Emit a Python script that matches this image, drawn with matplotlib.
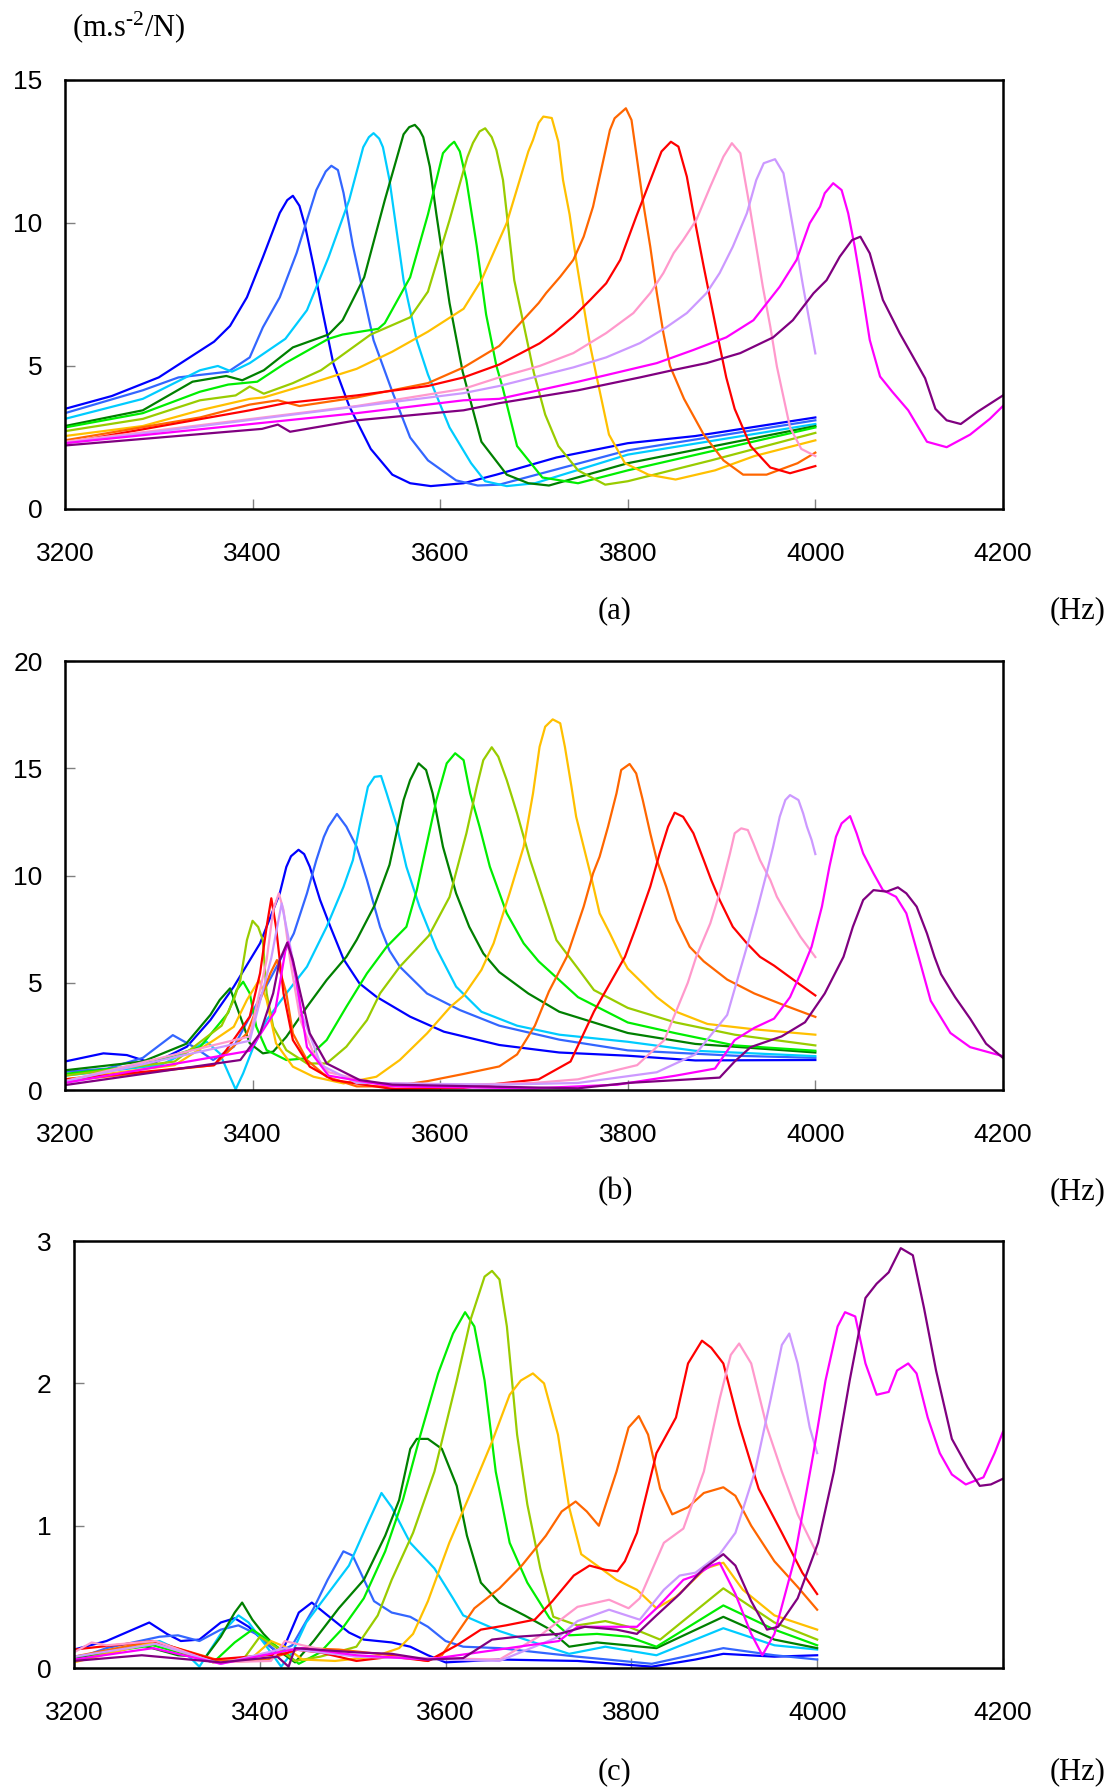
import matplotlib
matplotlib.use("Agg")
import matplotlib.pyplot as plt

plt.rcParams['font.family'] = 'Liberation Sans'
plt.rcParams['mathtext.fontset'] = 'custom'
plt.rcParams['mathtext.rm'] = 'Liberation Serif'
plt.rcParams['mathtext.it'] = 'Liberation Serif:italic'

# frequency axis
x_ticks = [3200, 3400, 3600, 3800, 4000, 4200]

# colours of the 13 measurement curves (same order in every panel)
colors = ['#0000FF', '#3366FF', '#00CCFF', '#008000', '#00EE00', '#99CC00', '#FFC000',
          '#FF6600', '#FF0000', '#FF99CC', '#CC99FF', '#FF00FF', '#800080']

# ---------------- panel (a) ----------------
a_blue = [(3200,3.5),(3250,3.95),(3300,4.6),(3359,5.85),(3376,6.4),(3394,7.4),(3411,8.8),(3429,10.35),(3437,10.8),(3443,10.95),(3450,10.6),(3456,9.9),(3465,8.5),(3475,6.85),(3486,5.1),(3503,3.6),(3526,2.1),(3549,1.2),(3568,0.9),(3590,0.8),(3625,0.9),(3660,1.2),(3724,1.8),(3800,2.3),(3872,2.55),(4000,3.2)]
a_royal = [(3200,3.35),(3283,4.15),(3321,4.6),(3374,4.8),(3397,5.3),(3411,6.35),(3429,7.4),(3447,8.95),(3468,11.15),(3478,11.8),(3484,12.0),(3491,11.85),(3497,11.05),(3507,9.2),(3518,7.55),(3529,5.9),(3549,4.1),(3568,2.5),(3587,1.7),(3617,1.0),(3640,0.82),(3663,0.85),(3800,2.05),(4000,3.1)]
a_sky = [(3200,3.15),(3283,3.85),(3344,4.85),(3363,5.0),(3378,4.8),(3397,5.1),(3435,5.95),(3458,6.95),(3481,8.8),(3503,10.8),(3518,12.65),(3524,13.0),(3529,13.14),(3535,12.95),(3539,12.65),(3546,11.5),(3561,8.0),(3575,5.9),(3587,4.7),(3610,2.85),(3633,1.6),(3648,0.97),(3671,0.8),(3701,0.9),(3800,1.9),(4000,2.97)]
a_dgreen = [(3200,2.9),(3283,3.45),(3336,4.45),(3372,4.65),(3389,4.5),(3412,4.85),(3443,5.65),(3481,6.1),(3496,6.6),(3519,8.1),(3541,10.8),(3561,13.1),(3567,13.35),(3573,13.43),(3578,13.25),(3582,13.0),(3589,11.97),(3596,10.3),(3610,7.2),(3624,4.8),(3644,2.35),(3671,1.2),(3694,0.9),(3716,0.82),(3800,1.6),(4000,2.9)]
a_lime = [(3200,2.85),(3283,3.35),(3344,4.1),(3374,4.35),(3405,4.45),(3435,5.1),(3481,5.95),(3496,6.1),(3534,6.3),(3541,6.5),(3568,8.1),(3587,10.3),(3603,12.44),(3610,12.7),(3615,12.84),(3621,12.5),(3628,11.5),(3639,9.2),(3649,6.8),(3660,5.0),(3667,4.2),(3682,2.2),(3709,1.1),(3747,0.9),(3800,1.35),(4000,2.85)]
a_ygreen = [(3200,2.72),(3283,3.15),(3344,3.8),(3382,3.97),(3397,4.28),(3412,4.03),(3443,4.4),(3473,4.85),(3488,5.2),(3526,6.1),(3568,6.7),(3587,7.6),(3610,10.1),(3629,12.3),(3635,12.8),(3642,13.2),(3648,13.31),(3655,13.0),(3660,12.55),(3667,11.5),(3679,8.0),(3690,6.3),(3700,4.75),(3712,3.3),(3726,2.2),(3747,1.35),(3776,0.85),(3800,0.97),(3889,1.7),(4000,2.66)]
a_gold = [(3200,2.55),(3283,2.9),(3344,3.45),(3397,3.85),(3412,3.9),(3458,4.35),(3511,4.9),(3549,5.5),(3587,6.2),(3625,7.0),(3644,8.0),(3671,10.0),(3694,12.5),(3699,12.9),(3705,13.5),(3710,13.72),(3719,13.67),(3726,12.84),(3731,11.5),(3738,10.3),(3745,8.7),(3753,7.1),(3760,5.7),(3767,4.6),(3780,2.6),(3797,1.6),(3822,1.2),(3851,1.03),(3893,1.35),(3935,1.85),(4000,2.4)]
a_orange = [(3200,2.4),(3344,3.2),(3397,3.65),(3427,3.8),(3450,3.6),(3511,3.9),(3587,4.4),(3625,4.95),(3663,5.7),(3705,7.2),(3713,7.55),(3728,8.12),(3742,8.71),(3753,9.52),(3763,10.57),(3774,12.2),(3781,13.25),(3786,13.66),(3798,14.01),(3804,13.6),(3809,12.44),(3816,10.8),(3824,9.17),(3831,7.55),(3838,6.15),(3845,5.0),(3860,3.85),(3881,2.6),(3902,1.7),(3923,1.2),(3948,1.2),(3981,1.6),(4000,1.97)]
a_red = [(3200,2.3),(3397,3.45),(3435,3.7),(3511,3.97),(3587,4.3),(3625,4.6),(3663,5.05),(3706,5.79),(3721,6.14),(3742,6.72),(3760,7.31),(3777,7.89),(3792,8.71),(3809,10.22),(3827,11.74),(3836,12.5),(3846,12.84),(3854,12.67),(3863,11.62),(3870,10.34),(3881,8.47),(3891,6.84),(3898,5.7),(3905,4.6),(3914,3.5),(3931,2.2),(3952,1.45),(3973,1.25),(4000,1.5)]
a_pink = [(3200,2.35),(3511,3.6),(3625,4.2),(3663,4.6),(3706,5.0),(3742,5.45),(3777,6.15),(3806,6.85),(3824,7.55),(3838,8.25),(3849,8.95),(3859,9.4),(3873,10.1),(3888,11.27),(3902,12.32),(3911,12.79),(3920,12.44),(3925,11.5),(3930,10.57),(3937,9.17),(3944,7.77),(3952,6.37),(3959,4.98),(3973,2.85),(3985,2.1),(4000,1.85)]
a_lav = [(3200,2.3),(3625,4.05),(3663,4.3),(3742,4.95),(3777,5.3),(3813,5.8),(3841,6.35),(3863,6.85),(3884,7.55),(3898,8.25),(3912,9.17),(3927,10.34),(3937,11.5),(3945,12.09),(3957,12.23),(3966,11.74),(3976,9.87),(3987,7.77),(4000,5.44)]
a_mag = [(3200,2.3),(3511,3.35),(3625,3.8),(3663,3.85),(3747,4.45),(3777,4.68),(3831,5.1),(3870,5.56),(3905,6.0),(3934,6.6),(3962,7.77),(3980,8.71),(3994,9.99),(4005,10.57),(4010,11.04),(4019,11.39),(4028,11.15),(4035,10.34),(4042,9.17),(4048,8.0),(4058,5.91),(4069,4.63),(4082,4.1),(4099,3.45),(4119,2.35),(4140,2.16),(4165,2.6),(4186,3.15),(4200,3.6)]
a_purple = [(3200,2.22),(3410,2.8),(3427,2.95),(3440,2.7),(3511,3.1),(3625,3.45),(3663,3.7),(3747,4.15),(3813,4.6),(3849,4.86),(3884,5.1),(3920,5.45),(3955,6.0),(3976,6.6),(3998,7.54),(4012,8.0),(4026,8.82),(4039,9.4),(4048,9.52),(4058,8.94),(4072,7.31),(4090,6.14),(4104,5.33),(4117,4.57),(4128,3.5),(4140,3.1),(4155,2.97),(4173,3.4),(4200,3.97)]

# ---------------- panel (b) ----------------
b_blue = [(3200,1.33),(3241,1.71),(3266,1.63),(3294,1.24),(3330,2.02),(3355,3.26),(3380,4.82),(3408,6.84),(3429,9.17),(3436,10.4),(3441,10.9),(3449,11.2),(3455,11.0),(3461,10.41),(3472,8.86),(3483,7.61),(3497,6.1),(3514,4.97),(3532,4.35),(3568,3.42),(3604,2.72),(3663,2.1),(3727,1.75),(3800,1.6),(3872,1.38),(4000,1.4)]
b_royal = [(3200,0.85),(3245,1.0),(3283,1.5),(3315,2.56),(3337,2.02),(3358,1.4),(3380,2.02),(3401,3.73),(3422,5.44),(3444,7.3),(3458,9.17),(3468,10.72),(3476,11.8),(3481,12.28),(3490,12.87),(3500,12.28),(3511,11.34),(3522,9.79),(3536,7.6),(3546,6.5),(3557,5.75),(3586,4.5),(3621,3.73),(3663,3.0),(3727,2.35),(3800,1.85),(3914,1.6),(4000,1.5)]
b_sky = [(3200,0.67),(3302,1.16),(3329,1.75),(3351,2.25),(3365,1.71),(3376,0.62),(3382,0.03),(3390,0.78),(3401,2.02),(3415,3.26),(3436,4.51),(3458,5.75),(3479,7.61),(3497,9.48),(3507,10.72),(3514,12.28),(3523,14.14),(3530,14.6),(3537,14.64),(3543,13.83),(3554,12.28),(3564,10.41),(3578,8.55),(3596,6.6),(3617,4.82),(3644,3.65),(3682,3.0),(3727,2.58),(3800,2.25),(3872,1.83),(4000,1.58)]
b_dgreen = [(3200,0.92),(3283,1.33),(3329,2.15),(3355,3.5),(3365,4.2),(3376,4.74),(3387,3.42),(3397,2.18),(3411,1.71),(3422,1.79),(3436,2.48),(3458,3.88),(3479,5.13),(3500,6.21),(3511,7.0),(3530,8.6),(3546,10.5),(3551,11.5),(3561,13.52),(3568,14.45),(3577,15.23),(3585,14.92),(3592,13.83),(3603,11.34),(3617,9.17),(3631,7.61),(3646,6.37),(3663,5.5),(3694,4.5),(3727,3.65),(3800,2.66),(3872,2.15),(4000,1.75)]
b_lime = [(3200,0.75),(3283,1.16),(3344,2.0),(3374,3.6),(3383,4.66),(3390,5.05),(3397,4.51),(3404,2.95),(3415,1.86),(3436,1.4),(3458,1.48),(3479,2.33),(3500,3.88),(3522,5.44),(3543,6.68),(3564,7.61),(3575,9.3),(3582,10.72),(3596,13.52),(3607,15.23),(3616,15.7),(3625,15.38),(3632,13.83),(3642,12.28),(3653,10.41),(3671,8.24),(3689,6.84),(3705,6.0),(3747,4.33),(3800,3.15),(3851,2.65),(3914,2.08),(4000,1.83)]
b_ygreen = [(3200,0.67),(3317,1.33),(3367,3.0),(3380,4.2),(3387,5.13),(3394,6.99),(3400,7.89),(3406,7.6),(3411,6.99),(3415,4.51),(3422,2.95),(3436,1.86),(3458,1.24),(3479,1.24),(3500,2.02),(3522,3.26),(3536,4.51),(3557,5.75),(3588,7.2),(3610,9.0),(3628,11.97),(3639,14.14),(3646,15.38),(3655,15.98),(3662,15.54),(3671,14.45),(3682,12.9),(3696,10.72),(3710,8.86),(3724,6.99),(3747,5.66),(3764,4.66),(3800,3.83),(3851,3.15),(3914,2.58),(4000,2.08)]
b_gold = [(3200,0.5),(3317,1.16),(3359,2.33),(3380,2.95),(3394,4.2),(3407,5.13),(3415,4.2),(3425,2.18),(3443,1.09),(3465,0.62),(3497,0.31),(3532,0.62),(3557,1.4),(3586,2.64),(3611,3.88),(3625,4.4),(3644,5.6),(3657,6.84),(3674,9.17),(3689,11.34),(3699,13.83),(3706,16.0),(3712,16.94),(3720,17.28),(3728,17.1),(3733,16.0),(3740,14.14),(3745,12.74),(3753,11.34),(3761,9.94),(3770,8.24),(3781,7.3),(3793,6.21),(3800,5.66),(3831,4.33),(3851,3.66),(3885,3.08),(3935,2.83),(4000,2.58)]
b_orange = [(3200,0.42),(3359,1.16),(3394,2.64),(3408,4.2),(3419,5.44),(3426,6.06),(3436,4.51),(3443,2.64),(3458,1.4),(3479,0.62),(3511,0.17),(3549,0.17),(3587,0.42),(3625,0.75),(3663,1.1),(3682,1.66),(3701,3.0),(3716,4.6),(3735,6.21),(3753,8.55),(3763,10.1),(3770,10.88),(3779,12.28),(3788,13.83),(3793,14.92),(3802,15.2),(3809,14.76),(3816,13.52),(3824,11.97),(3831,10.72),(3841,9.48),(3852,7.93),(3866,6.68),(3881,6.0),(3906,5.15),(3935,4.5),(3964,4.0),(4000,3.41)]
b_red = [(3200,0.5),(3359,1.16),(3372,1.86),(3397,3.42),(3408,5.44),(3415,7.61),(3420,8.94),(3425,7.61),(3433,4.51),(3443,2.33),(3461,1.09),(3486,0.47),(3549,0.05),(3625,0.1),(3663,0.3),(3705,0.5),(3739,1.33),(3764,3.66),(3797,6.21),(3809,7.61),(3824,9.48),(3834,11.03),(3843,12.28),(3850,12.93),(3859,12.74),(3870,11.97),(3881,10.72),(3889,9.79),(3898,8.86),(3912,7.61),(3927,6.84),(3941,6.21),(3956,5.8),(3981,5.0),(4000,4.41)]
b_pink = [(3200,0.42),(3397,2.5),(3415,6.06),(3422,8.39),(3428,9.17),(3433,8.39),(3440,6.06),(3451,3.26),(3465,1.71),(3481,0.83),(3530,0.33),(3625,0.25),(3700,0.33),(3747,0.5),(3810,1.16),(3839,2.33),(3864,5.0),(3873,6.21),(3888,7.77),(3900,9.48),(3909,11.03),(3914,11.97),(3921,12.2),(3928,12.12),(3934,11.5),(3941,10.72),(3952,9.79),(3959,9.01),(3969,8.24),(3984,7.15),(4000,6.2)]
b_lav = [(3200,0.4),(3397,2.3),(3420,6.16),(3431,8.7),(3443,6.06),(3451,3.73),(3473,1.16),(3511,0.33),(3663,0.25),(3747,0.33),(3831,0.83),(3872,1.66),(3906,3.5),(3927,6.68),(3937,8.24),(3948,10.1),(3955,11.34),(3962,12.74),(3968,13.52),(3973,13.75),(3982,13.52),(3987,12.9),(3991,12.28),(3996,11.66),(4000,11.0)]
b_mag = [(3200,0.33),(3397,1.83),(3424,3.66),(3435,6.5),(3438,6.9),(3446,5.3),(3458,2.0),(3481,0.67),(3549,0.17),(3700,0.08),(3789,0.25),(3851,0.67),(3893,1.0),(3914,2.33),(3935,2.9),(3956,3.33),(3973,4.33),(3985,5.5),(3996,6.68),(4007,8.55),(4015,10.41),(4022,11.81),(4028,12.43),(4037,12.77),(4044,11.97),(4051,11.03),(4062,10.1),(4072,9.32),(4086,9.01),(4097,8.24),(4104,7.15),(4111,6.06),(4123,4.16),(4144,2.66),(4165,2.0),(4200,1.58)]
b_purple = [(3200,0.23),(3387,1.4),(3408,2.64),(3422,4.51),(3429,6.06),(3437,6.87),(3443,6.06),(3451,4.51),(3461,2.64),(3479,1.24),(3514,0.47),(3549,0.25),(3747,0.08),(3800,0.33),(3898,0.58),(3914,1.33),(3931,2.0),(3964,2.5),(3989,3.16),(4010,4.5),(4030,6.21),(4040,7.61),(4051,8.86),(4062,9.32),(4076,9.25),(4088,9.45),(4097,9.17),(4108,8.55),(4119,7.3),(4127,6.21),(4134,5.4),(4149,4.33),(4165,3.33),(4182,2.16),(4200,1.5)]

# ---------------- panel (c) ----------------
c_blue = [(3200,0.13),(3235,0.19),(3281,0.32),(3300,0.24),(3315,0.19),(3335,0.2),(3358,0.32),(3373,0.35),(3388,0.29),(3404,0.19),(3419,0.11),(3427,0.16),(3442,0.39),(3456,0.46),(3473,0.37),(3496,0.25),(3512,0.2),(3542,0.18),(3562,0.15),(3581,0.09),(3600,0.04),(3658,0.06),(3742,0.05),(3822,0.01),(3869,0.06),(3899,0.1),(3954,0.08),(4000,0.09)]
c_royal = [(3200,0.06),(3235,0.14),(3292,0.22),(3312,0.23),(3335,0.19),(3358,0.27),(3377,0.3),(3396,0.24),(3419,0.11),(3435,0.16),(3458,0.42),(3473,0.62),(3490,0.82),(3500,0.79),(3523,0.47),(3542,0.39),(3562,0.36),(3581,0.29),(3600,0.19),(3619,0.15),(3658,0.14),(3742,0.08),(3822,0.03),(3899,0.14),(3954,0.09),(4000,0.06)]
c_sky = [(3200,0.05),(3235,0.11),(3292,0.19),(3319,0.11),(3335,0.01),(3358,0.24),(3377,0.37),(3388,0.32),(3412,0.11),(3423,0.01),(3435,0.11),(3450,0.32),(3473,0.52),(3496,0.72),(3515,1.0),(3531,1.23),(3542,1.13),(3562,0.88),(3588,0.7),(3608,0.49),(3619,0.37),(3658,0.26),(3700,0.17),(3733,0.1),(3772,0.15),(3827,0.09),(3899,0.28),(3954,0.16),(4000,0.13)]
c_dgreen = [(3200,0.06),(3273,0.16),(3312,0.09),(3342,0.08),(3358,0.22),(3373,0.39),(3381,0.46),(3392,0.34),(3404,0.24),(3423,0.11),(3438,0.04),(3458,0.19),(3485,0.42),(3512,0.62),(3535,0.93),(3550,1.18),(3562,1.54),(3569,1.61),(3581,1.61),(3596,1.54),(3612,1.28),(3623,0.93),(3638,0.6),(3658,0.46),(3685,0.37),(3710,0.28),(3733,0.15),(3763,0.18),(3827,0.14),(3899,0.36),(3954,0.2),(4000,0.14)]
c_lime = [(3200,0.08),(3285,0.16),(3319,0.1),(3350,0.04),(3373,0.18),(3392,0.27),(3408,0.2),(3427,0.11),(3442,0.03),(3465,0.11),(3488,0.27),(3512,0.49),(3535,0.82),(3554,1.18),(3573,1.64),(3592,2.07),(3608,2.35),(3621,2.5),(3631,2.4),(3642,2.02),(3654,1.38),(3669,0.88),(3688,0.6),(3712,0.35),(3733,0.23),(3763,0.24),(3797,0.22),(3827,0.15),(3899,0.44),(3954,0.27),(4000,0.16)]
c_ygreen = [(3200,0.05),(3285,0.18),(3350,0.05),(3381,0.05),(3400,0.22),(3419,0.14),(3438,0.05),(3465,0.08),(3504,0.15),(3527,0.37),(3542,0.62),(3565,0.95),(3588,1.38),(3612,2.02),(3627,2.45),(3642,2.75),(3650,2.79),(3658,2.73),(3666,2.4),(3677,1.64),(3688,1.15),(3702,0.7),(3716,0.36),(3742,0.3),(3772,0.33),(3797,0.29),(3831,0.2),(3899,0.56),(3954,0.32),(4000,0.2)]
c_gold = [(3200,0.04),(3285,0.18),(3350,0.04),(3388,0.05),(3412,0.19),(3427,0.15),(3446,0.06),(3481,0.05),(3523,0.08),(3550,0.14),(3565,0.24),(3581,0.47),(3604,0.88),(3627,1.23),(3650,1.59),(3669,1.92),(3681,2.02),(3694,2.07),(3706,2.0),(3721,1.64),(3733,1.13),(3746,0.8),(3763,0.72),(3784,0.62),(3806,0.55),(3827,0.42),(3848,0.5),(3880,0.7),(3899,0.74),(3920,0.55),(3954,0.37),(4000,0.27)]
c_orange = [(3200,0.08),(3285,0.19),(3358,0.05),(3408,0.06),(3446,0.14),(3485,0.13),(3542,0.09),(3581,0.05),(3596,0.09),(3612,0.24),(3631,0.42),(3658,0.56),(3682,0.72),(3708,0.93),(3725,1.1),(3740,1.17),(3752,1.1),(3765,1.0),(3784,1.38),(3797,1.69),(3808,1.77),(3818,1.64),(3831,1.26),(3844,1.08),(3861,1.13),(3878,1.23),(3899,1.27),(3912,1.21),(3929,1.0),(3954,0.75),(3979,0.57),(4000,0.41)]
c_red = [(3200,0.13),(3285,0.19),(3350,0.06),(3427,0.1),(3438,0.13),(3465,0.11),(3504,0.05),(3542,0.08),(3581,0.05),(3612,0.16),(3638,0.27),(3665,0.3),(3696,0.34),(3715,0.47),(3738,0.65),(3755,0.72),(3772,0.69),(3785,0.68),(3793,0.75),(3806,0.95),(3827,1.51),(3848,1.76),(3861,2.14),(3876,2.3),(3886,2.25),(3899,2.14),(3916,1.71),(3937,1.26),(3962,0.95),(3984,0.67),(4000,0.52)]
c_pink = [(3200,0.11),(3219,0.18),(3235,0.16),(3288,0.19),(3350,0.04),(3412,0.05),(3427,0.19),(3446,0.16),(3504,0.08),(3658,0.06),(3700,0.22),(3742,0.43),(3776,0.48),(3797,0.42),(3809,0.49),(3835,0.88),(3856,0.98),(3878,1.38),(3895,1.89),(3907,2.2),(3916,2.28),(3929,2.14),(3946,1.69),(3962,1.38),(3979,1.08),(4000,0.8)]
c_lav = [(3200,0.08),(3288,0.17),(3358,0.03),(3427,0.14),(3504,0.08),(3658,0.05),(3722,0.22),(3742,0.33),(3776,0.41),(3809,0.34),(3835,0.55),(3852,0.65),(3869,0.67),(3895,0.8),(3912,0.95),(3933,1.38),(3950,1.89),(3962,2.27),(3970,2.35),(3979,2.14),(3992,1.69),(4000,1.51)]
c_mag = [(3200,0.06),(3285,0.14),(3358,0.03),(3427,0.12),(3446,0.14),(3504,0.09),(3581,0.06),(3722,0.19),(3742,0.29),(3806,0.29),(3827,0.42),(3856,0.62),(3869,0.65),(3886,0.72),(3895,0.74),(3912,0.52),(3929,0.24),(3941,0.09),(3954,0.24),(3975,0.75),(3996,1.51),(4009,2.02),(4022,2.4),(4030,2.5),(4041,2.47),(4052,2.14),(4064,1.92),(4077,1.94),(4086,2.09),(4098,2.14),(4107,2.07),(4119,1.76),(4132,1.51),(4145,1.36),(4160,1.29),(4179,1.34),(4191,1.51),(4200,1.66)]
c_purple = [(3200,0.05),(3273,0.09),(3358,0.04),(3419,0.08),(3431,0.01),(3438,0.14),(3504,0.11),(3542,0.1),(3581,0.06),(3619,0.07),(3650,0.2),(3677,0.22),(3722,0.24),(3750,0.29),(3784,0.27),(3806,0.24),(3827,0.37),(3852,0.52),(3878,0.7),(3899,0.8),(3912,0.72),(3929,0.47),(3946,0.27),(3958,0.29),(3979,0.49),(4001,0.88),(4018,1.38),(4035,2.02),(4052,2.6),(4064,2.7),(4077,2.78),(4090,2.95),(4103,2.9),(4115,2.53),(4128,2.09),(4145,1.61),(4162,1.41),(4175,1.28),(4187,1.29),(4200,1.33)]

panel_a = [a_blue, a_royal, a_sky, a_dgreen, a_lime, a_ygreen, a_gold, a_orange, a_red, a_pink, a_lav, a_mag, a_purple]
panel_b = [b_blue, b_royal, b_sky, b_dgreen, b_lime, b_ygreen, b_gold, b_orange, b_red, b_pink, b_lav, b_mag, b_purple]
panel_c = [c_blue, c_royal, c_sky, c_dgreen, c_lime, c_ygreen, c_gold, c_orange, c_red, c_pink, c_lav, c_mag, c_purple]

fig = plt.figure(figsize=(11.16, 17.89), dpi=100)

def draw_panel(rect, curves, ymax, ystep, tag, label_drop):
    ax = fig.add_axes(rect)
    for pts, col in zip(curves, colors):
        f, v = zip(*pts)
        ax.plot(f, v, color=col, lw=1.6, solid_joinstyle='round')
    ax.set_xlim(3200, 4200)
    ax.set_ylim(0, ymax)
    ax.set_xticks(x_ticks)
    n = int(round(ymax / ystep))
    ax.set_yticks([i * ystep for i in range(n + 1)])
    ax.set_yticklabels([str(i * ystep) for i in range(n + 1)])
    ax.tick_params(axis='x', direction='in', length=7, width=1, color='#808080',
                   labelsize=19, pad=24)
    ax.tick_params(axis='y', direction='in', length=7, width=1, color='#808080',
                   labelsize=19, pad=16)
    for s in ax.spines.values():
        s.set_linewidth(1.8)
        s.set_color('black')
    # panel letter and unit under the axes
    fig.text(0.551, rect[1] - label_drop, tag, ha='center', va='center',
             family='Liberation Serif', fontsize=22)
    fig.text(0.966, rect[1] - label_drop, '(Hz)', ha='center', va='center',
             family='Liberation Serif', fontsize=22)
    return ax

draw_panel([0.0582, 0.7155, 0.8405, 0.2398], panel_a, 15, 5, '(a)', 0.057)
draw_panel([0.0582, 0.3907, 0.8405, 0.2398], panel_b, 20, 5, '(b)', 0.057)
draw_panel([0.0663, 0.0676, 0.8324, 0.2387], panel_c, 3, 1, '(c)', 0.058)

fig.text(0.115, 0.985, r'(m.s$^{\text{-2}}$/N)', ha='center', va='center',
         family='Liberation Serif', fontsize=22)

fig.savefig('out.png', dpi=100)
